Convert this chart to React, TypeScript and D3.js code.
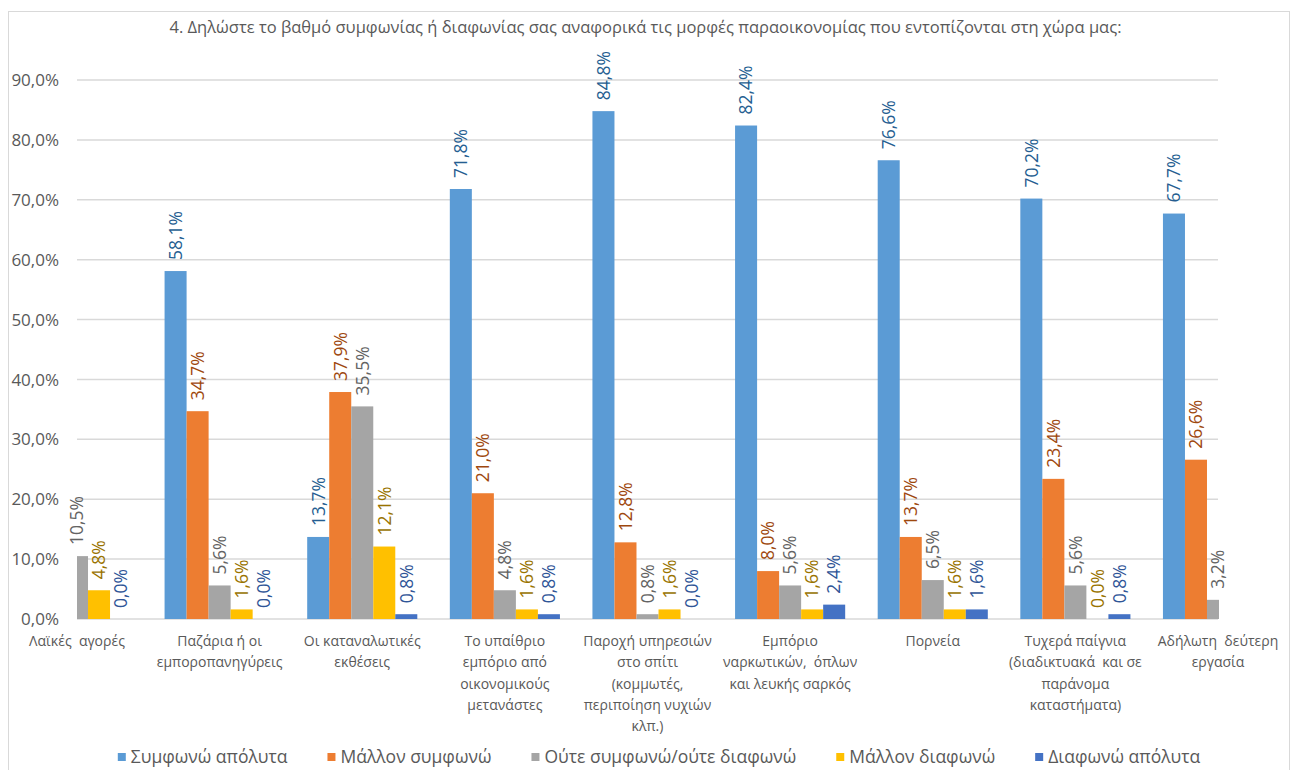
import React from "react";
import * as d3 from "d3";

const title =
  "4. Δηλώστε το βαθμό συμφωνίας ή διαφωνίας σας αναφορικά τις μορφές παραοικονομίας που εντοπίζονται στη χώρα μας:";

const categories: string[][] = [
  ["Λαϊκές  αγορές"],
  ["Παζάρια ή οι", "εμποροπανηγύρεις"],
  ["Οι καταναλωτικές", "εκθέσεις"],
  ["Το υπαίθριο", "εμπόριο από", "οικονομικούς", "μετανάστες"],
  ["Παροχή υπηρεσιών", "στο σπίτι", "(κομμωτές,", "περιποίηση νυχιών", "κλπ.)"],
  ["Εμπόριο", "ναρκωτικών,  όπλων", "και λευκής σαρκός"],
  ["Πορνεία"],
  ["Τυχερά παίγνια", "(διαδικτυακά  και σε", "παράνομα", "καταστήματα)"],
  ["Αδήλωτη  δεύτερη", "εργασία"],
];

const seriesNames = [
  "Συμφωνώ απόλυτα",
  "Μάλλον συμφωνώ",
  "Ούτε συμφωνώ/ούτε διαφωνώ",
  "Μάλλον διαφωνώ",
  "Διαφωνώ απόλυτα",
];

const agreeFully: (number | null)[] = [null, 58.1, 13.7, 71.8, 84.8, 82.4, 76.6, 70.2, 67.7];
const ratherAgree: (number | null)[] = [null, 34.7, 37.9, 21.0, 12.8, 8.0, 13.7, 23.4, 26.6];
const neither: (number | null)[] = [10.5, 5.6, 35.5, 4.8, 0.8, 5.6, 6.5, 5.6, 3.2];
const ratherDisagree: (number | null)[] = [4.8, 1.6, 12.1, 1.6, 1.6, 1.6, 1.6, 0.0, null];
const disagreeFully: (number | null)[] = [0.0, 0.0, 0.8, 0.8, 0.0, 2.4, 1.6, 0.8, null];

const yTicks = [0, 10, 20, 30, 40, 50, 60, 70, 80, 90];

const seriesValues = [agreeFully, ratherAgree, neither, ratherDisagree, disagreeFully];
const barColors = ["#5B9BD5", "#ED7D31", "#A5A5A5", "#FFC000", "#4472C4"];
const labelColors = ["#255E91", "#9E480E", "#636363", "#997300", "#2F5597"];

const W = 1291;
const H = 770;
const FONT = '"Open Sans", sans-serif';
const plotLeft = 77;
const plotRight = 1218;
const plotTop = 80;
const plotBottom = 619;

const fmt = (v: number) => v.toFixed(1).replace(".", ",") + "%";

function measure(text: string, font: string): number {
  const c = document.createElement("canvas").getContext("2d");
  if (!c) return text.length * 9;
  c.font = font;
  return c.measureText(text).width;
}

export default function App() {
  const keys = categories.map((_, i) => String(i));
  const x = d3.scalePoint<string>().domain(keys).range([plotLeft, plotRight]);
  const y = d3.scaleLinear().domain([0, 90]).range([plotBottom, plotTop]);
  const step = x.step();
  const bw = (step * 0.772) / 5;

  // legend layout
  const legendFontSize = 17.5;
  const legendFont = `${legendFontSize}px ${FONT}`;
  const sq = 8;
  const sqGap = 5;
  const itemGap = 40;
  const widths = seriesNames.map((n) => measure(n, legendFont));
  const total = widths.reduce((a, w) => a + sq + sqGap + w, 0) + itemGap * (seriesNames.length - 1);
  let lx = 659 - total / 2;
  const legendItems = seriesNames.map((n, i) => {
    const item = { name: n, x: lx, color: barColors[i] };
    lx += sq + sqGap + widths[i] + itemGap;
    return item;
  });

  return (
    <svg
      width={W}
      height={H}
      style={{ position: "absolute", left: 0, top: 0, background: "#fff" }}
      fontFamily={FONT}
    >
      <defs>
        <clipPath id="plotClip">
          <rect x={plotLeft} y={0} width={plotRight - plotLeft + 1} height={plotBottom + 1} />
        </clipPath>
      </defs>
      <rect x={8.5} y={11.5} width={1281} height={H} fill="#fff" stroke="#D9D9D9" strokeWidth={1} />
      <text x={645.5} y={33} textAnchor="middle" fontSize={16.5} fill="#595959">
        {title}
      </text>
      {yTicks.map((t) => (
        <g key={t}>
          <line
            x1={plotLeft}
            x2={plotRight}
            y1={y(t)}
            y2={y(t)}
            stroke="#D9D9D9"
            strokeWidth={1.5}
          />
          <text x={59} y={y(t)} dy="0.36em" textAnchor="end" fontSize={17} fill="#595959">
            {fmt(t)}
          </text>
        </g>
      ))}
      <g clipPath="url(#plotClip)">
        {seriesValues.map((vals, s) =>
          vals.map((v, i) => {
            if (v === null) return null;
            const cx = (x(String(i)) as number) + (s - 2) * bw;
            return (
              <rect
                key={`${s}-${i}`}
                x={cx - bw / 2}
                y={y(v)}
                width={bw}
                height={plotBottom - y(v)}
                fill={barColors[s]}
              />
            );
          })
        )}
      </g>
      {seriesValues.map((vals, s) =>
        vals.map((v, i) => {
          if (v === null) return null;
          const cx = (x(String(i)) as number) + (s - 2) * bw;
          if (cx < plotLeft - 1 || cx > plotRight + 1) return null;
          const ty = y(v) - 11;
          return (
            <text
              key={`l${s}-${i}`}
              transform={`translate(${cx},${ty}) rotate(-90)`}
              dy="0.36em"
              textAnchor="start"
              fontSize={17.5}
              fill={labelColors[s]}
            >
              {fmt(v)}
            </text>
          );
        })
      )}
      {categories.map((lines, i) => (
        <text key={`c${i}`} textAnchor="middle" fontSize={14} fill="#595959">
          {lines.map((ln, k) => (
            <tspan key={k} x={x(String(i)) as number} y={646 + k * 21.3} style={{ whiteSpace: "pre" }}>
              {ln}
            </tspan>
          ))}
        </text>
      ))}
      {legendItems.map((it) => (
        <g key={it.name}>
          <rect x={it.x} y={753} width={sq} height={sq} fill={it.color} />
          <text x={it.x + sq + sqGap} y={757} dy="0.36em" fontSize={legendFontSize} fill="#595959">
            {it.name}
          </text>
        </g>
      ))}
    </svg>
  );
}
